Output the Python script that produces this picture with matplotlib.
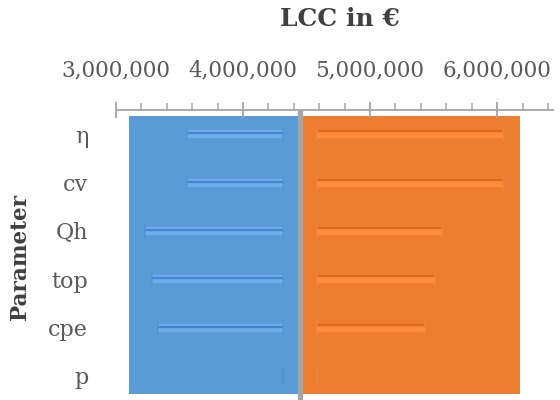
import matplotlib
matplotlib.use("Agg")
import matplotlib.pyplot as plt
from matplotlib.ticker import MultipleLocator, FuncFormatter

# Sensitivity of life-cycle cost to each parameter
params = ["η", "cv", "Qh", "top", "cpe", "p"]
lcc_low = [3.56e6, 3.56e6, 3.23e6, 3.28e6, 3.33e6, 4.45e6]
lcc_high = [6.05e6, 6.05e6, 5.57e6, 5.51e6, 5.43e6, 4.45e6]
lcc_base = 4.45e6
range_min = 3.10e6
range_max = 6.18e6

BLUE = "#5B9BD5"
ORANGE = "#ED7D31"
GRAY = "#A5A5A5"
TEXT = "#595959"
DARK = "#404040"
SERIF = ["DejaVu Serif"]

fig = plt.figure(figsize=(5.6, 4.0), dpi=100)
ax = fig.add_axes([116 / 560, 0.0, (553 - 116) / 560, 290 / 400])

n = len(params)
ax.set_ylim(n - 0.5, -0.5)
ax.set_xlim(3.0e6, 6.44e6)

# background ranges either side of the base case
inset = 0.124
ax.barh(-0.5 + inset, lcc_base - range_min, left=range_min,
        height=n - 2 * inset, align="edge", color=BLUE, zorder=1)
ax.barh(-0.5 + inset, range_max - lcc_base, left=lcc_base,
        height=n - 2 * inset, align="edge", color=ORANGE, zorder=1)
ax.axvline(lcc_base, color=GRAY, lw=3.8, zorder=3)

gap = 0.135e6
inner_lo = lcc_base - gap
inner_hi = lcc_base + gap
for i, (lo, hi) in enumerate(zip(lcc_low, lcc_high)):
    x0 = min(lo, inner_lo)
    x1 = max(hi, inner_hi)
    # low side
    ax.plot([x0, inner_lo], [i, i], color="#72ACE8", lw=6.0,
            solid_capstyle="butt", zorder=2)
    ax.plot([x0, inner_lo], [i - 0.02, i - 0.02], color="#3E86D6", lw=1.6,
            solid_capstyle="butt", zorder=2)
    for xc in (x0, inner_lo):
        ax.plot([xc, xc], [i - 0.13, i + 0.13], color="#4F8FCF", lw=1.2,
                alpha=0.6, zorder=2)
    # high side
    ax.plot([inner_hi, x1], [i, i], color="#FF8A3A", lw=6.0,
            solid_capstyle="butt", zorder=2)
    ax.plot([inner_hi, x1], [i - 0.06, i - 0.06], color="#DC6A1C", lw=1.6,
            solid_capstyle="butt", zorder=2)
    for xc in (inner_hi, x1):
        ax.plot([xc, xc], [i - 0.13, i + 0.13], color="#F08A48", lw=1.2,
                alpha=0.6, zorder=2)

# axis on top
for s in ("left", "right", "bottom"):
    ax.spines[s].set_visible(False)
ax.spines["top"].set_color(GRAY)
ax.spines["top"].set_linewidth(1.3)
ax.xaxis.set_ticks_position("top")
ax.xaxis.set_label_position("top")
ax.xaxis.set_major_locator(MultipleLocator(1e6))
ax.xaxis.set_minor_locator(MultipleLocator(2e5))
ax.xaxis.set_major_formatter(FuncFormatter(lambda v, _: f"{v:,.0f}"))
ax.tick_params(axis="x", which="major", direction="inout", length=11,
               width=1.3, color=GRAY, pad=15, labelsize=15.5,
               labelcolor=TEXT)
ax.tick_params(axis="x", which="minor", direction="out", length=5,
               width=1.1, color=GRAY)
for lab in ax.get_xticklabels():
    lab.set_family(SERIF)

ax.set_yticks(range(n))
ax.set_yticklabels(params, family=SERIF, fontsize=16, color=TEXT)
ax.tick_params(axis="y", length=0, pad=20)

fig.text(340 / 560, 1 - 19 / 400, "LCC in €", ha="center", va="center",
         family=SERIF, fontsize=18, fontweight="bold", color=DARK)
fig.text(20 / 560, 1 - 257 / 400, "Parameter", ha="center", va="center",
         rotation=90, family=SERIF, fontsize=15.5, fontweight="bold",
         color=DARK)

fig.savefig("out.png", dpi=100)
